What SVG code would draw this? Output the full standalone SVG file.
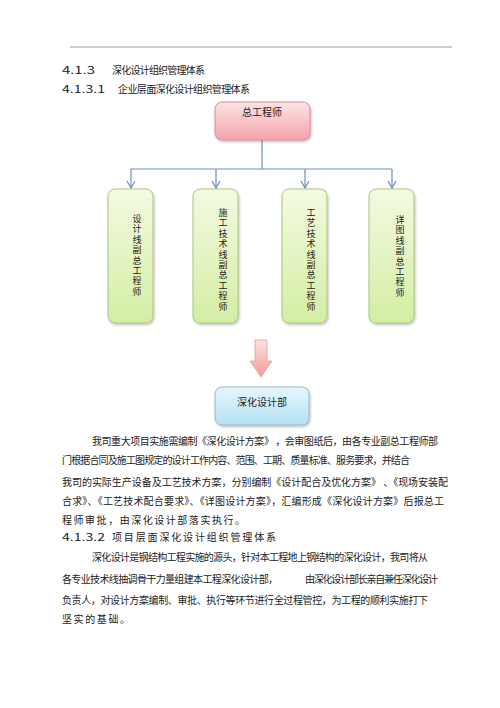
<svg xmlns="http://www.w3.org/2000/svg" width="500" height="708" viewBox="0 0 500 708">
<defs>
<linearGradient id="gPink" x1="0" y1="0" x2="0" y2="1"><stop offset="0" stop-color="#fde4e6"/><stop offset="1" stop-color="#f3a3ab"/></linearGradient>
<linearGradient id="gGreen" x1="0" y1="0" x2="0" y2="1"><stop offset="0" stop-color="#f4fae0"/><stop offset="1" stop-color="#d4eea4"/></linearGradient>
<linearGradient id="gBlue" x1="0" y1="0" x2="0" y2="1"><stop offset="0" stop-color="#e6f6fc"/><stop offset="1" stop-color="#b4e2f4"/></linearGradient>
<linearGradient id="gArrow" x1="0" y1="0" x2="0" y2="1"><stop offset="0" stop-color="#fde0e0"/><stop offset="1" stop-color="#f49a9a"/></linearGradient>
<marker id="ah" markerWidth="10" markerHeight="10" refX="8" refY="5" orient="auto" markerUnits="userSpaceOnUse"><path d="M1,1 L8,5 L1,9" fill="none" stroke="#6f8fbb" stroke-width="1.2"/></marker>
<filter id="sh" x="-20%" y="-20%" width="140%" height="140%"><feDropShadow dx="1" dy="1.5" stdDeviation="1.2" flood-color="#000" flood-opacity="0.25"/></filter>
</defs>
<style>
text{font-family:"Noto Sans CJK SC","Noto Sans",sans-serif;fill:#222;}
.b{font-size:10px;}
.h{font-size:10px;}
.n{font-size:10px;text-anchor:middle;}
.v{font-size:9px;writing-mode:vertical-rl;text-orientation:upright;letter-spacing:1.4px;}
.conn{fill:none;stroke:#6f8fbb;stroke-width:1.2;}
</style>
<rect width="500" height="708" fill="#fff"/>
<line x1="70" y1="47" x2="452" y2="47" stroke="#999" stroke-width="1"/>

<text class="h" x="62" y="74" textLength="33" lengthAdjust="spacingAndGlyphs">4.1.3</text>
<text class="h" x="112" y="74" textLength="93" lengthAdjust="spacing">深化设计组织管理体系</text>
<text class="h" x="62" y="93" textLength="43" lengthAdjust="spacingAndGlyphs">4.1.3.1</text>
<text class="h" x="118" y="93" textLength="132" lengthAdjust="spacing">企业层面深化设计组织管理体系</text>

<g id="connectors">
<path class="conn" d="M262,140 V169"/>
<path class="conn" d="M131,169 H392"/>
<path class="conn" d="M131,169 V188" marker-end="url(#ah)"/>
<path class="conn" d="M216,169 V188" marker-end="url(#ah)"/>
<path class="conn" d="M305,169 V188" marker-end="url(#ah)"/>
<path class="conn" d="M392,169 V188" marker-end="url(#ah)"/>
<path d="M255,340 H267 V361 H272 L261,377 L250,361 H255 Z" fill="url(#gArrow)" stroke="#e0a0a0" stroke-width="0.8"/>
</g>

<g id="chief">
<rect x="215" y="102" width="95" height="38" rx="7" fill="url(#gPink)" stroke="#d88c96" stroke-width="1" filter="url(#sh)"/>
<text class="n" x="262" y="116">总工程师</text>
</g>

<g id="design">
<rect x="108" y="189" width="45" height="134" rx="7" fill="url(#gGreen)" stroke="#a9c87a" stroke-width="1" filter="url(#sh)"/>
<text class="v" x="137" y="214">设计线副总工程师</text>
</g>

<g id="construction">
<rect x="193" y="189" width="45" height="134" rx="7" fill="url(#gGreen)" stroke="#a9c87a" stroke-width="1" filter="url(#sh)"/>
<text class="v" x="223" y="208">施工技术线副总工程师</text>
</g>

<g id="process">
<rect x="282" y="189" width="45" height="134" rx="7" fill="url(#gGreen)" stroke="#a9c87a" stroke-width="1" filter="url(#sh)"/>
<text class="v" x="311" y="208">工艺技术线副总工程师</text>
</g>

<g id="detail">
<rect x="369" y="189" width="45" height="134" rx="7" fill="url(#gGreen)" stroke="#a9c87a" stroke-width="1" filter="url(#sh)"/>
<text class="v" x="400" y="215">详图线副总工程师</text>
</g>

<g id="dept">
<rect x="215" y="387" width="94" height="38" rx="7" fill="url(#gBlue)" stroke="#8fb9cc" stroke-width="1" filter="url(#sh)"/>
<text class="n" x="262" y="406">深化设计部</text>
</g>

<text class="b" x="92" y="445" textLength="346" lengthAdjust="spacing">我司重大项目实施需编制《深化设计方案》 ，会审图纸后，由各专业副总工程师部</text>
<text class="b" x="62" y="464" textLength="348" lengthAdjust="spacing">门根据合同及施工图规定的设计工作内容、范围、工期、质量标准、服务要求，并结合</text>
<text class="b" x="62" y="486" textLength="386" lengthAdjust="spacing">我司的实际生产设备及工艺技术方案，分别编制《设计配合及优化方案》 、《现场安装配</text>
<text class="b" x="62" y="505" textLength="382" lengthAdjust="spacing">合求》、《工艺技术配合要求》、《详图设计方案》，汇编形成《深化设计方案》后报总工</text>
<text class="b" x="62" y="524" textLength="183" lengthAdjust="spacing">程师审批，由深化设计部落实执行。</text>
<text class="h" x="62" y="541" textLength="43" lengthAdjust="spacingAndGlyphs">4.1.3.2</text>
<text class="h" x="112" y="541" textLength="164" lengthAdjust="spacing">项目层面深化设计组织管理体系</text>
<text class="b" x="92" y="561" textLength="336" lengthAdjust="spacing">深化设计是钢结构工程实施的源头，针对本工程地上钢结构的深化设计，我司将从</text>
<text class="b" x="62" y="583" textLength="216" lengthAdjust="spacing">各专业技术线抽调骨干力量组建本工程深化设计部，</text>
<text class="b" x="305" y="583" textLength="133" lengthAdjust="spacing">由深化设计部长亲自兼任深化设计</text>
<text class="b" x="62" y="604" textLength="366" lengthAdjust="spacing">负责人，对设计方案编制、审批、执行等环节进行全过程管控，为工程的顺利实施打下</text>
<text class="b" x="62" y="623" textLength="68" lengthAdjust="spacing">坚实的基础。</text>
</svg>
